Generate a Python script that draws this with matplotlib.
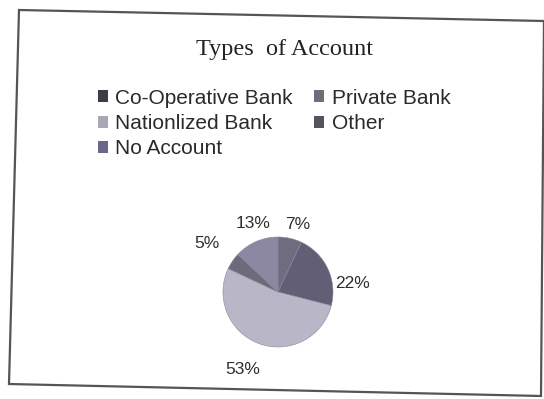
import matplotlib
matplotlib.use('Agg')
import matplotlib.pyplot as plt
from matplotlib.patches import Patch, Polygon

# --- data ---
categories = ["Co-Operative Bank", "Private Bank", "Nationlized Bank", "Other", "No Account"]
shares = [7, 22, 53, 5, 13]
slice_colors = ["#6f6c80", "#625e76", "#b9b6c8", "#6d6a7c", "#8c88a2"]
legend_colors = ["#3f3c48", "#6f6d79", "#aaa8b3", "#55535f", "#6a6888"]

# label spots (in pie radii) - Excel "best fit" put them off the wedge middles
label_spots = [(0.35, 1.22), (1.36, 0.16), (-0.64, -1.40), (-1.29, 0.89), (-0.45, 1.24)]

W, H = 544, 399
fig = plt.figure(figsize=(W / 100, H / 100), dpi=100)
fig.patch.set_facecolor('white')

# slightly skewed scan border
frame = Polygon([(19 / W, 1 - 10 / H), (544 / W, 1 - 21 / H),
                 (541 / W, 1 - 396 / H), (9 / W, 1 - 384 / H)],
                closed=True, fill=False, edgecolor='#555555', linewidth=1.6,
                transform=fig.transFigure)
fig.patches.append(frame)

fig.text(285 / W, 1 - 50 / H, "Types  of Account", ha='center', va='center',
         fontsize=17.5, family='Liberation Serif', color='#222222')

# pie: centre around (278, 292) px, radius ~55 px
ax = fig.add_axes([190 / W, 19 / H, 176 / W, 176 / H])
wedges, texts, autotexts = ax.pie(
    shares, colors=slice_colors, startangle=90, counterclock=False,
    autopct=lambda p: f"{round(p)}%", pctdistance=1.4,
    wedgeprops=dict(edgecolor='#8a889a', linewidth=0.4),
    textprops=dict(fontsize=12.5, color='#2e2e2e', family='Liberation Sans'))
for t, pos in zip(autotexts, label_spots):
    t.set_position(pos)
ax.set_xlim(-1.6, 1.6)
ax.set_ylim(-1.6, 1.6)
ax.set_aspect('equal')
ax.axis('off')

# legend laid out row-wise like the original
handles = [Patch(facecolor=c, edgecolor='none', label=l)
           for c, l in zip(legend_colors, categories)]
order = [0, 2, 4, 1, 3]
fig.legend([handles[i] for i in order], [categories[i] for i in order],
           ncol=2, loc='upper left', bbox_to_anchor=(79 / W, 1 - 70 / H),
           frameon=False, handlelength=0.5, handleheight=0.5, handletextpad=0.35,
           columnspacing=1.0, labelspacing=0.3,
           prop=dict(family='Liberation Sans', size=15), labelcolor='#2a2a2a')

fig.savefig('out.png', dpi=100, facecolor='white')
